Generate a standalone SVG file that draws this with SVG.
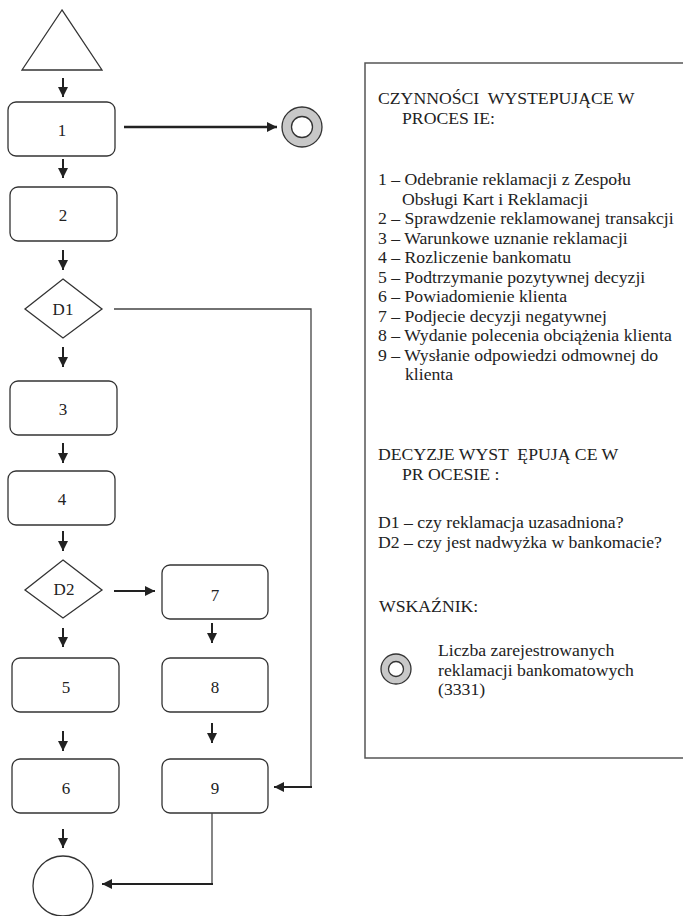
<svg xmlns="http://www.w3.org/2000/svg" width="683" height="916" viewBox="0 0 683 916">
<style>
.shape{fill:#fff;stroke:#333;stroke-width:1.3}
.lbl{font-family:"Liberation Serif","Times New Roman",serif;font-size:17px;fill:#222;text-anchor:middle;dominant-baseline:central}
.t{font-family:"Liberation Serif","Times New Roman",serif;font-size:17.7px;fill:#222;white-space:pre}
.arr{stroke:#222;stroke-width:2;fill:none;marker-end:url(#ah)}
.thin{stroke:#444;stroke-width:1.3;fill:none}
.ind{fill:#c8c8c8;stroke:#333;stroke-width:1.3}
.indin{fill:#fff;stroke:#333;stroke-width:1.3}
</style>
<defs>
<marker id="ah" markerUnits="userSpaceOnUse" markerWidth="10" markerHeight="10" refX="10" refY="5" orient="auto">
<path d="M0,0 L10,5 L0,10 z" fill="#222"/>
</marker>
</defs>
<rect width="683" height="916" fill="#fff"/>

<g id="start"><polygon class="shape" points="62,10 22,70 102,70"/></g>
<g id="n1"><rect class="shape" x="8" y="102" width="107" height="54" rx="8"/><text class="lbl" x="62" y="130">1</text></g>
<g id="indicator"><circle class="ind" cx="302" cy="127" r="20"/><circle class="indin" cx="302" cy="127" r="10.5"/></g>
<g id="n2"><rect class="shape" x="10" y="187" width="107" height="54" rx="8"/><text class="lbl" x="63" y="215">2</text></g>
<g id="d1"><polygon class="shape" points="63,279 102,309 63,338 25,309"/><text class="lbl" x="63" y="309">D1</text></g>
<g id="n3"><rect class="shape" x="10" y="381" width="107" height="54" rx="8"/><text class="lbl" x="63" y="409">3</text></g>
<g id="n4"><rect class="shape" x="8" y="471" width="107" height="54" rx="8"/><text class="lbl" x="62" y="499">4</text></g>
<g id="d2"><polygon class="shape" points="63,560 102,590 63,618 25,590"/><text class="lbl" x="64" y="589">D2</text></g>
<g id="n7"><rect class="shape" x="162" y="565" width="106" height="54" rx="8"/><text class="lbl" x="215" y="595">7</text></g>
<g id="n5"><rect class="shape" x="12" y="658" width="107" height="54" rx="8"/><text class="lbl" x="66" y="687">5</text></g>
<g id="n8"><rect class="shape" x="162" y="658" width="106" height="54" rx="8"/><text class="lbl" x="215" y="687">8</text></g>
<g id="n6"><rect class="shape" x="12" y="759" width="107" height="54" rx="8"/><text class="lbl" x="66" y="788">6</text></g>
<g id="n9"><rect class="shape" x="162" y="759" width="106" height="54" rx="8"/><text class="lbl" x="215" y="788">9</text></g>
<g id="end"><circle class="shape" cx="63" cy="886" r="30"/></g>

<g id="connectors">
<line class="arr" x1="63" y1="78" x2="63" y2="97"/>
<line class="arr" x1="124" y1="127" x2="277" y2="127" style="stroke-width:2.6"/>
<line class="arr" x1="63" y1="159" x2="63" y2="178"/>
<line class="arr" x1="63" y1="250" x2="63" y2="270"/>
<polyline class="thin" points="114,309 311,309 311,787"/>
<line class="arr" x1="312" y1="787" x2="274" y2="787"/>
<line class="arr" x1="63" y1="347" x2="63" y2="367"/>
<line class="arr" x1="63" y1="443" x2="63" y2="463"/>
<line class="arr" x1="63" y1="531" x2="63" y2="551"/>
<line class="arr" x1="114" y1="591" x2="155" y2="591"/>
<line class="arr" x1="212" y1="623" x2="212" y2="643"/>
<line class="arr" x1="212" y1="723" x2="212" y2="743"/>
<line class="arr" x1="63" y1="628" x2="63" y2="647"/>
<line class="arr" x1="63" y1="731" x2="63" y2="751"/>
<line class="arr" x1="63" y1="829" x2="63" y2="848"/>
<polyline class="thin" points="212,813 212,884"/>
<line class="arr" x1="213" y1="884" x2="102" y2="884"/>
</g>

<g id="legend">
<rect x="365" y="63" width="330" height="695" fill="none" stroke="#555" stroke-width="1.5"/>
<text class="t" x="378" y="104">CZYNNOŚCI  WYSTEPUJĄCE W</text>
<text class="t" x="402" y="123.5">PROCES IE:</text>
<text class="t" x="378" y="185">1 – Odebranie reklamacji z Zespołu</text>
<text class="t" x="402" y="204.5">Obsługi Kart i Reklamacji</text>
<text class="t" x="378" y="224">2 – Sprawdzenie reklamowanej transakcji</text>
<text class="t" x="378" y="243.5">3 – Warunkowe uznanie reklamacji</text>
<text class="t" x="378" y="263">4 – Rozliczenie bankomatu</text>
<text class="t" x="378" y="282.5">5 – Podtrzymanie pozytywnej decyzji</text>
<text class="t" x="378" y="302">6 – Powiadomienie klienta</text>
<text class="t" x="378" y="321.5">7 – Podjecie decyzji negatywnej</text>
<text class="t" x="378" y="341">8 – Wydanie polecenia obciążenia klienta</text>
<text class="t" x="378" y="360.5">9 – Wysłanie odpowiedzi odmownej do</text>
<text class="t" x="405" y="380">klienta</text>
<text class="t" x="378" y="460">DECYZJE WYST  ĘPUJĄ CE W</text>
<text class="t" x="402" y="479.5">PR OCESIE :</text>
<text class="t" x="378" y="528">D1 – czy reklamacja uzasadniona?</text>
<text class="t" x="378" y="547.5">D2 – czy jest nadwyżka w bankomacie?</text>
<text class="t" x="379" y="612">WSKAŹNIK:</text>
<circle class="ind" cx="396" cy="669" r="15"/>
<circle class="indin" cx="396" cy="669" r="7.5"/>
<text class="t" x="438" y="656">Liczba zarejestrowanych</text>
<text class="t" x="438" y="675.5">reklamacji bankomatowych</text>
<text class="t" x="438" y="695">(3331)</text>
</g>
</svg>
